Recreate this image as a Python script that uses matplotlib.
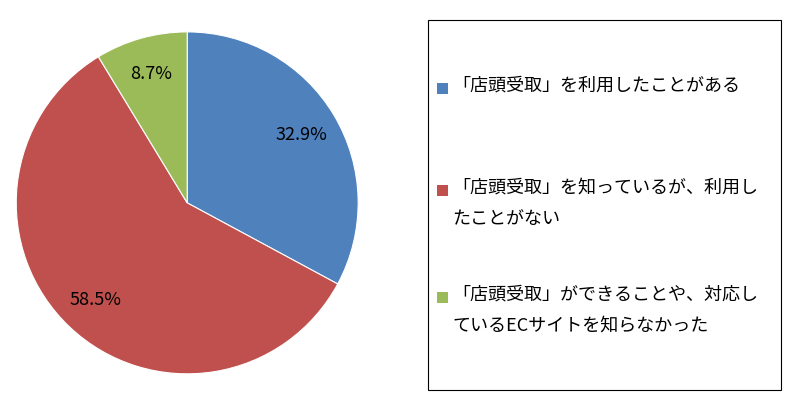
import matplotlib
matplotlib.use("Agg")
import matplotlib.pyplot as plt
from matplotlib.patches import Rectangle

labels = ["「店頭受取」を利用したことがある",
          "「店頭受取」を知っているが、利用し\nたことがない",
          "「店頭受取」ができることや、対応し\nているECサイトを知らなかった"]
values = [32.9, 58.5, 8.7]
pct_labels = ["32.9%", "58.5%", "8.7%"]
colors = ["#4F81BD", "#C0504D", "#9BBB59"]

plt.rcParams["font.family"] = "Noto Sans CJK JP"
fig = plt.figure(figsize=(8, 4.09), dpi=100)
ax = fig.add_axes([0.234 - 0.21375, 0.504 - 0.418, 0.4275, 0.836])
wedges, texts = ax.pie(values, colors=colors, startangle=90, counterclock=False,
                       labels=pct_labels, labeldistance=0.78,
                       wedgeprops=dict(edgecolor="white", linewidth=0.8),
                       textprops=dict(fontsize=13, color="black", ha="center", va="center"))
ax.set_xlim(-1, 1)
ax.set_ylim(-1, 1)
ax.set_aspect("equal")

fig.patches.append(Rectangle((428/800, 1-390/409), 353/800, 370/409, transform=fig.transFigure,
                             fill=False, edgecolor="black", linewidth=0.8))
ys = [88, 190, 297]
for y, lab, c in zip(ys, labels, colors):
    fig.patches.append(Rectangle((437/800, 1-(y+6)/409), 11/800, 11/409, transform=fig.transFigure,
                                 facecolor=c, edgecolor="none"))
    fig.text(452/800, 1-(y-11)/409, lab, fontsize=13, va="top", ha="left", linespacing=1.9)

fig.savefig("out.png", dpi=100)
